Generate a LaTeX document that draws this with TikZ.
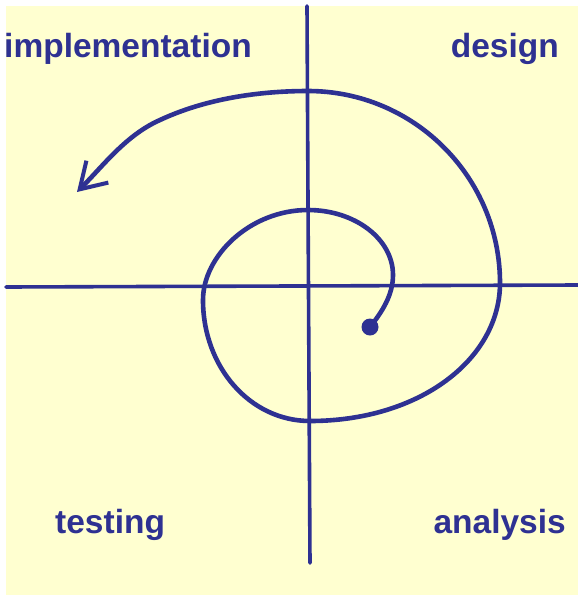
\documentclass[tikz,border=0pt]{standalone}
\usepackage{fontspec}
\setmainfont{Liberation Sans}
\usetikzlibrary{arrows.meta}

\definecolor{paper}{RGB}{255,255,208}
\definecolor{ink}{RGB}{46,49,146}

\tikzset{
  axis/.style={ink, line width=3.6pt, line cap=round},
  spiral/.style={ink, line width=4.6pt},
  phase/.style={ink, inner sep=0pt, font=\bfseries\fontsize{33.5}{40}\selectfont}
}

\begin{document}
\begin{tikzpicture}[x=1pt, y=-1pt]
    \useasboundingbox (0, 0) rectangle (578, 595);

    % Paper
    \fill[paper] (6, 6) rectangle (578, 595);

    % Quadrant axes
    \draw[axis] (307, 6) -- (308, 200) -- (310, 563);
    \draw[axis] (6, 287) -- (578, 285);

    % Phase labels
    \node[phase, anchor=base west] (impl) at (4, 57) {implementation};
    \node[phase, anchor=base east] (design) at (559, 57) {design};
    \node[phase, anchor=base west] (test) at (55, 533) {testing};
    \node[phase, anchor=base east] (analysis) at (566, 533) {analysis};

    % Spiral
    \coordinate (start) at (370, 327);
    \coordinate (tip) at (77, 192);
    \fill[ink] (start) circle (8.5);
    \draw[spiral, -{Straight Barb[length=25pt, width=31pt, line width=4pt]}]
        (start) .. controls (382, 312) and (393, 295) .. (393, 275)
        .. controls (393, 239) and (355, 210) .. (308, 210)
        .. controls (250, 210) and (203, 256) .. (203, 300)
        .. controls (203, 367) and (250, 421) .. (310, 421)
        .. controls (420, 421) and (500, 359) .. (500, 283)
        .. controls (500, 177) and (414, 91) .. (308, 91)
        .. controls (258, 91) and (205, 99) .. (160, 120)
        .. controls (126, 135) and (103, 166) .. (tip);
\end{tikzpicture}
\end{document}
